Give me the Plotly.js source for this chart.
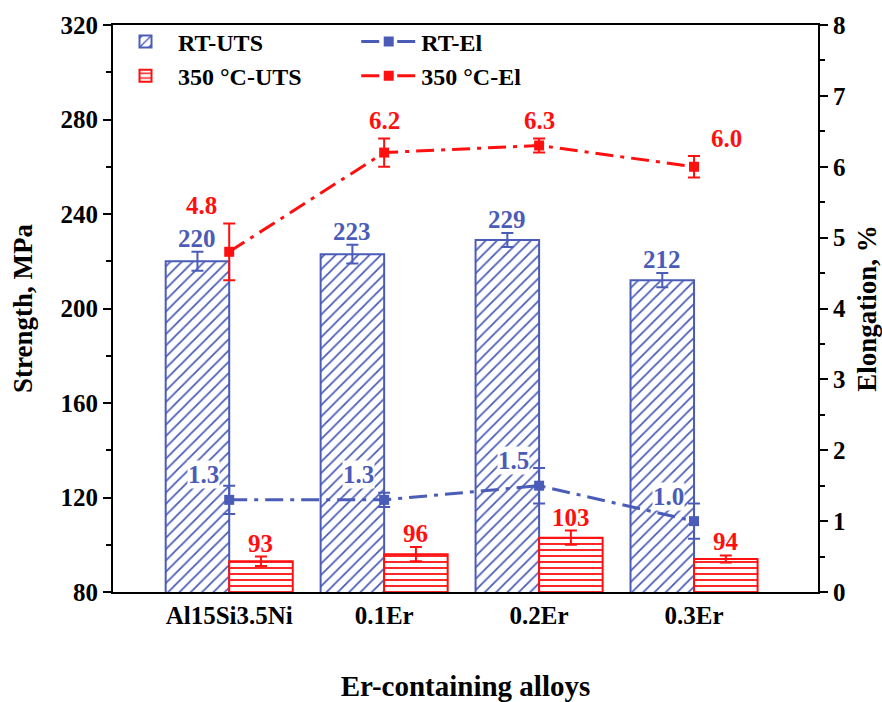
<!DOCTYPE html>
<html>
<head>
<meta charset="utf-8">
<script src="https://cdn.plot.ly/plotly-3.0.1.min.js"></script>
<style>body{margin:0;background:#fff;}#chart{width:882px;height:702px;}</style>
</head>
<body>
<div id="chart"></div>
<script>
const categories = ['Al15Si3.5Ni', '0.1Er', '0.2Er', '0.3Er'];
const rtUTS = [220, 223, 229, 212];
const rtUTSErr = [4, 4, 3, 3];
const hotUTS = [93, 96, 103, 94];
const hotUTSErr = [2, 3, 3, 1.5];
const rtEl = [1.3, 1.3, 1.5, 1.0];
const rtElErr = [0.2, 0.1, 0.25, 0.25];
const hotEl = [4.8, 6.2, 6.3, 6.0];
const hotElErr = [0.4, 0.2, 0.1, 0.15];

const BLUE = '#4a5cb8';
const RED = '#ff1010';
const FONT = 'Liberation Serif, Times New Roman, serif';
const xs = categories.map((c, i) => i);
const W = 0.41;
const DASH = '18px,7px,4px,7px';

const traces = [
  {
    type: 'bar', name: 'RT-UTS', x: xs, y: rtUTS, width: W, offset: -W,
    marker: {color: 'white', line: {color: BLUE, width: 2},
      pattern: {shape: '/', fgcolor: BLUE, bgcolor: 'white', size: 8, solidity: 0.22}},
    error_y: {type: 'data', array: rtUTSErr, visible: true, color: BLUE, thickness: 2, width: 6},
    legend: 'legend'
  },
  {
    type: 'bar', name: '350 \u00B0C-UTS', x: xs, y: hotUTS, width: W, offset: 0,
    marker: {color: 'white', line: {color: RED, width: 2},
      pattern: {shape: '-', fgcolor: RED, bgcolor: 'white', size: 6, solidity: 0.3}},
    error_y: {type: 'data', array: hotUTSErr, visible: true, color: RED, thickness: 2, width: 6},
    legend: 'legend'
  },
  {
    type: 'scatter', mode: 'lines+markers', name: 'RT-El', x: xs, y: rtEl, yaxis: 'y2',
    line: {color: BLUE, width: 3, dash: DASH},
    marker: {symbol: 'square', size: 10, color: BLUE},
    error_y: {type: 'data', array: rtElErr, visible: true, color: BLUE, thickness: 2, width: 6},
    legend: 'legend2'
  },
  {
    type: 'scatter', mode: 'lines+markers', name: '350 \u00B0C-El', x: xs, y: hotEl, yaxis: 'y2',
    line: {color: RED, width: 3, dash: DASH},
    marker: {symbol: 'square', size: 10, color: RED},
    error_y: {type: 'data', array: hotElErr, visible: true, color: RED, thickness: 2, width: 6},
    legend: 'legend2'
  }
];

const annotations = [];
const lblFont = (c) => ({family: FONT, size: 25, color: c, weight: 'bold'});
xs.forEach((x, i) => {
  annotations.push({x: x - W / 2, y: rtUTS[i] + rtUTSErr[i], xref: 'x', yref: 'y', text: '<b>' + rtUTS[i] + '</b>',
    showarrow: false, yanchor: 'bottom', yshift: -2, font: lblFont(BLUE)});
  annotations.push({x: x + W / 2, y: hotUTS[i] + hotUTSErr[i], xref: 'x', yref: 'y', text: '<b>' + hotUTS[i] + '</b>',
    showarrow: false, yanchor: 'bottom', yshift: -2, font: lblFont(RED)});
  annotations.push({x: x, y: rtEl[i], xref: 'x', yref: 'y2', text: '<b>' + rtEl[i].toFixed(1) + '</b>',
    showarrow: false, xshift: -26, yshift: 25, bgcolor: 'white', borderpad: 0, font: lblFont(BLUE)});
});
const hotShift = [-28, 0, 0, 32];
xs.forEach((x, i) => {
  annotations.push({x: x, y: hotEl[i] + hotElErr[i], xref: 'x', yref: 'y2', text: '<b>' + hotEl[i].toFixed(1) + '</b>',
    showarrow: false, yanchor: 'bottom', xshift: hotShift[i], yshift: 2, font: lblFont(RED)});
});

const tickFont = {family: FONT, size: 25, color: 'black', weight: 'bold'};
const titleFont = {family: FONT, size: 27, color: 'black', weight: 'bold'};
const legFont = {family: FONT, size: 24, color: 'black', weight: 'bold'};

const layout = {
  width: 882, height: 702,
  margin: {l: 113, r: 64, t: 25, b: 110},
  paper_bgcolor: 'white', plot_bgcolor: 'white',
  showlegend: true,
  xaxis: {
    range: [-0.75, 3.8], tickvals: xs, ticktext: categories, ticks: '',
    showgrid: false, zeroline: false, showline: true, linecolor: 'black', linewidth: 2, mirror: true,
    tickfont: tickFont,
    title: {text: 'Er-containing alloys', font: {family: FONT, size: 29, color: 'black', weight: 'bold'}, standoff: 48}
  },
  yaxis: {
    range: [80, 320], dtick: 40, tick0: 80, ticks: 'outside', ticklen: 8, tickwidth: 2, tickcolor: 'black',
    minor: {dtick: 20, ticks: 'outside', ticklen: 5, tickwidth: 2, tickcolor: 'black'},
    showgrid: false, zeroline: false, showline: true, linecolor: 'black', linewidth: 2,
    tickfont: tickFont,
    title: {text: 'Strength, MPa', font: titleFont, standoff: 20}
  },
  yaxis2: {
    range: [0, 8], dtick: 1, overlaying: 'y', side: 'right', ticks: 'outside', ticklen: 8, tickwidth: 2, tickcolor: 'black',
    minor: {dtick: 0.5, ticks: 'outside', ticklen: 5, tickwidth: 2, tickcolor: 'black'},
    showgrid: false, zeroline: false, showline: true, linecolor: 'black', linewidth: 2,
    tickfont: tickFont,
    title: {text: 'Elongation, %', font: titleFont, standoff: 14}
  },
  legend: {x: 0.0, y: 1.01, xanchor: 'left', yanchor: 'top', bgcolor: 'rgba(0,0,0,0)',
    font: legFont, tracegroupgap: 0, itemwidth: 55},
  legend2: {x: 0.345, y: 1.01, xanchor: 'left', yanchor: 'top', bgcolor: 'rgba(0,0,0,0)',
    font: legFont, tracegroupgap: 0, itemwidth: 55},
  annotations: annotations
};

Plotly.newPlot('chart', traces, layout, {displayModeBar: false, staticPlot: true});
</script>
</body>
</html>
